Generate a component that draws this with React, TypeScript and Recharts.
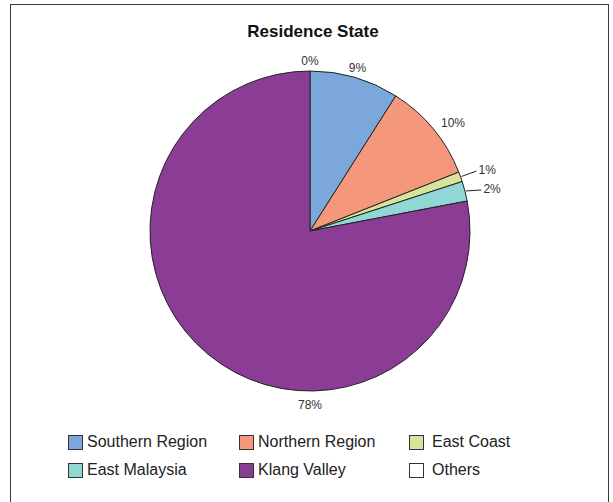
import React from "react";
import { PieChart, Pie, Cell } from "recharts";

const regions = ["Southern Region", "Northern Region", "East Coast", "East Malaysia", "Klang Valley", "Others"];
const shares = [9, 10, 1, 2, 78, 0];
const colors = ["#7ca7da", "#f5977a", "#d8e39b", "#91d7d6", "#8b3c95", "#ffffff"];

const data = regions.map((name, i) => ({ name, value: shares[i] }));

const RADIAN = Math.PI / 180;
const FONT = "'Liberation Sans', Arial, sans-serif";

// Excel-like outside labels; tiny slices get a short leader line
const renderLabel = (props: any) => {
  const { cx, cy, midAngle, outerRadius, percent } = props;
  // the dominant slice's label sits under the pie
  const angle = percent > 0.5 ? -90 : midAngle;
  const cos = Math.cos(-angle * RADIAN);
  const sin = Math.sin(-angle * RADIAN);
  const small = percent > 0 && percent < 0.03;
  const text = `${Math.round(percent * 100)}%`;

  if (small) {
    const x1 = cx + (outerRadius + 1) * cos;
    const y1 = cy + (outerRadius + 1) * sin;
    const x2 = cx + (outerRadius + 17) * cos;
    const y2 = cy + (outerRadius + 17) * sin + (percent > 0.015 ? 3 : 0);
    return (
      <g>
        <line x1={x1} y1={y1} x2={x2} y2={y2} stroke="#222" strokeWidth={1} />
        <text x={x2 + 2} y={y2 - 1} fill="#333" fontSize={12} fontFamily={FONT} textAnchor="start" dominantBaseline="central">
          {text}
        </text>
      </g>
    );
  }

  const r = outerRadius + 10 + 4 * Math.max(0, sin);
  const x = cx + r * cos;
  const y = cy + r * sin;
  const anchor = cos > 0.3 ? "start" : cos < -0.3 ? "end" : "middle";
  return (
    <text x={x} y={y} fill="#333" fontSize={12} fontFamily={FONT} textAnchor={anchor} dominantBaseline="central">
      {text}
    </text>
  );
};

const legendCols = [68, 239, 409];
const legendRows = [434, 462];

export default function App() {
  return (
    <div style={{ position: "absolute", left: 0, top: 0, width: 613, height: 502, background: "#fff", overflow: "hidden", fontFamily: FONT }}>
      <div
        style={{
          position: "absolute",
          left: 10,
          top: 4,
          width: 599,
          height: 520,
          border: "1.5px solid #3a3a3a",
          boxSizing: "border-box",
        }}
      />
      <div
        style={{
          position: "absolute",
          left: 0,
          width: 626,
          top: 22,
          textAlign: "center",
          fontSize: 17,
          fontWeight: "bold",
          color: "#111",
        }}
      >
        Residence State
      </div>
      <div style={{ position: "absolute", left: 0, top: 0 }}>
        <PieChart width={613} height={502} margin={{ top: 0, right: 0, bottom: 0, left: 0 }}>
          <Pie
            data={data}
            dataKey="value"
            nameKey="name"
            cx={310}
            cy={231}
            outerRadius={160}
            startAngle={90}
            endAngle={-270}
            stroke="#222"
            strokeWidth={1}
            label={renderLabel}
            labelLine={false}
            isAnimationActive={false}
          >
            {data.map((d, i) => (
              <Cell key={d.name} fill={colors[i]} />
            ))}
          </Pie>
        </PieChart>
      </div>
      {regions.map((name, i) => {
        const left = legendCols[i % 3];
        const top = legendRows[Math.floor(i / 3)];
        return (
          <div key={name} style={{ position: "absolute", left, top, display: "flex", alignItems: "center", height: 16 }}>
            <div
              style={{
                width: 15,
                height: 15,
                background: colors[i],
                border: "1px solid #333",
                boxSizing: "border-box",
                marginRight: i % 3 === 2 ? 8 : 4,
              }}
            />
            <span style={{ fontSize: 16, color: "#222", whiteSpace: "nowrap" }}>{name}</span>
          </div>
        );
      })}
    </div>
  );
}
